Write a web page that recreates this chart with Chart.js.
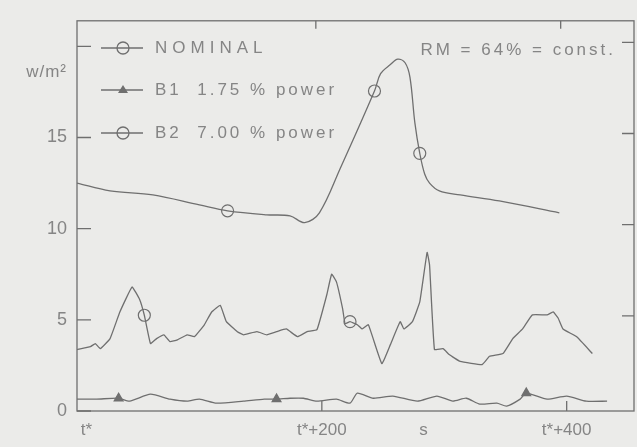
<!DOCTYPE html>
<html>
<head>
<meta charset="utf-8">
<script src="https://cdn.jsdelivr.net/npm/chart.js@4.4.1/dist/chart.umd.min.js"></script>
<style>
  html, body { margin: 0; padding: 0; background: #ebebe9; }
  canvas { display: block; }
</style>
</head>
<body>
<canvas id="flux" width="637" height="447"></canvas>
<script>
// heat flux traces, time in s after t*

const nominalTime = [0, 27, 62, 100, 123, 155, 174, 186, 198, 215, 243, 248, 256, 262, 268, 272, 276, 280, 284, 288, 296, 313, 345, 394];
const nominalValue = [12.5, 12.07, 11.85, 11.3, 10.98, 10.76, 10.7, 10.33, 10.87, 13.3, 17.55, 18.5, 19.0, 19.3, 19.1, 18.3, 15.8, 14.13, 13.0, 12.5, 12.07, 11.85, 11.52, 10.87];
const nominalMarks = [123, 243, 280];

const b1Time = [0, 16, 34, 43, 60, 76, 90, 100, 114, 136, 153, 163, 174, 185, 196, 212, 223, 229, 242, 258, 278, 294, 307, 318, 329, 343, 351, 362, 367, 384, 400, 416, 433];
const b1Value = [0.65, 0.65, 0.7, 0.54, 0.92, 0.65, 0.54, 0.65, 0.43, 0.54, 0.65, 0.65, 0.7, 0.7, 0.54, 0.65, 0.43, 0.98, 0.7, 0.82, 0.54, 0.82, 0.54, 0.7, 0.38, 0.43, 0.27, 0.65, 0.98, 0.65, 0.82, 0.54, 0.54];
const b1Marks = [34, 163, 367];

const b2Time = [0, 11, 15, 19, 27, 35, 45, 51, 55, 60, 65, 71, 76, 82, 90, 96, 104, 110, 117, 122, 131, 136, 147, 155, 163, 171, 180, 188, 196, 204, 208, 212, 217, 219, 223, 229, 233, 238, 249, 256, 264, 267, 274, 280, 286, 288, 292, 299, 304, 313, 331, 337, 348, 356, 364, 372, 384, 389, 393, 397, 408, 421];
const b2Value = [3.37, 3.53, 3.7, 3.42, 3.97, 5.43, 6.8, 6.14, 5.25, 3.7, 3.97, 4.18, 3.8, 3.9, 4.18, 4.08, 4.73, 5.43, 5.8, 4.9, 4.35, 4.18, 4.35, 4.18, 4.35, 4.5, 4.08, 4.35, 4.46, 6.36, 7.5, 7.07, 5.6, 4.78, 4.9, 4.73, 4.5, 4.73, 2.6, 3.64, 4.9, 4.5, 4.9, 5.98, 8.7, 8.0, 3.37, 3.42, 3.1, 2.72, 2.55, 3.0, 3.15, 3.97, 4.5, 5.27, 5.27, 5.43, 5.1, 4.5, 4.08, 3.15];
const b2Marks = [55, 223, 392];

const yTicks = [0, 5, 10, 15, 20];
const xTicks = [0, 200, 400];
const xTickLabels = ["    t*", "t*+200", "t*+400"];
const unitTime = 283; // where the "s" sits

const ink = "#6f6f6f";
const textInk = "#858585";

function pts(t, v) {
  return t.map((x, i) => ({ x: x, y: v[i] }));
}

function markRadius(marks, r) {
  return ctx => (ctx.raw && marks.includes(ctx.raw.x)) ? r : 0;
}

// frame, inward ticks, legend and notes
const decor = {
  id: "decor",
  afterDatasetsDraw(chart) {
    const c = chart.ctx;
    const a = chart.chartArea;
    const xs = chart.scales.x, ys = chart.scales.y;
    c.save();
    c.strokeStyle = ink;
    c.lineWidth = 1.3;
    c.strokeRect(a.left, a.top, a.right - a.left, a.bottom - a.top);
    c.beginPath();
    yTicks.forEach(v => {
      const py = ys.getPixelForValue(v);
      c.moveTo(a.left, py); c.lineTo(a.left + 14, py);
      if (v > 0) { c.moveTo(a.right, py - 4); c.lineTo(a.right - 12, py - 4); }
    });
    xTicks.slice(1).forEach(v => {
      const px = xs.getPixelForValue(v);
      c.moveTo(px, a.bottom); c.lineTo(px, a.bottom - 10);
      c.moveTo(px - 6, a.top); c.lineTo(px - 6, a.top + 8);
    });
    c.stroke();

    // legend
    const rows = [
      { y: 48, text: "NOMINAL", mark: "circle" },
      { y: 90, text: "B1  1.75 % power", mark: "triangle" },
      { y: 133, text: "B2  7.00 % power", mark: "circle" }
    ];
    c.font = "17px 'Liberation Sans', Arial, sans-serif";
    c.textBaseline = "middle";
    rows.forEach(r => {
      const x0 = a.left + 24, mx = a.left + 46;
      c.beginPath();
      c.moveTo(x0, r.y); c.lineTo(x0 + 42, r.y);
      c.stroke();
      c.beginPath();
      if (r.mark === "circle") {
        c.arc(mx, r.y, 6, 0, Math.PI * 2);
        c.stroke();
      } else {
        c.fillStyle = ink;
        c.moveTo(mx - 5, r.y + 3); c.lineTo(mx + 5, r.y + 3); c.lineTo(mx, r.y - 5);
        c.closePath();
        c.fill();
      }
      c.fillStyle = textInk;
      c.textAlign = "left";
      c.letterSpacing = r.text === "NOMINAL" ? "5px" : "3px";
      c.fillText(r.text, a.left + 78, r.y);
    });
    c.textAlign = "right";
    c.letterSpacing = "3px";
    c.fillText("RM = 64% = const.", a.right - 18, 50);

    // unit of y
    c.letterSpacing = "1px";
    c.fillText("w/m²", a.left - 10, 72);
    c.restore();
  }
};

new Chart(document.getElementById("flux"), {
  type: "line",
  data: {
    datasets: [
      {
        label: "NOMINAL",
        data: pts(nominalTime, nominalValue),
        borderColor: ink,
        borderWidth: 1.3,
        tension: 0.35,
        pointStyle: "circle",
        pointRadius: markRadius(nominalMarks, 6),
        pointBorderColor: ink,
        pointBackgroundColor: "rgba(0,0,0,0)",
        pointBorderWidth: 1.2
      },
      {
        label: "B1 1.75 % power",
        data: pts(b1Time, b1Value),
        borderColor: ink,
        borderWidth: 1.3,
        tension: 0.2,
        pointStyle: "triangle",
        pointRadius: markRadius(b1Marks, 5),
        pointBorderColor: ink,
        pointBackgroundColor: ink
      },
      {
        label: "B2 7.00 % power",
        data: pts(b2Time, b2Value),
        borderColor: ink,
        borderWidth: 1.3,
        tension: 0.1,
        pointStyle: "circle",
        pointRadius: markRadius(b2Marks, 6),
        pointBorderColor: ink,
        pointBackgroundColor: "rgba(0,0,0,0)",
        pointBorderWidth: 1.2
      }
    ]
  },
  options: {
    responsive: false,
    animation: false,
    devicePixelRatio: 1,
    layout: { padding: { top: 16, right: 3, left: 0, bottom: 0 } },
    plugins: { legend: { display: false }, tooltip: { enabled: false } },
    scales: {
      x: {
        type: "linear",
        min: 0,
        max: 455,
        grid: { display: false, drawTicks: false },
        border: { display: false },
        afterBuildTicks: s => { s.ticks = xTicks.concat([unitTime]).map(v => ({ value: v })); },
        afterFit: s => { s.height = 36; },
        ticks: {
          padding: 9,
          color: textInk,
          font: { family: "'Liberation Sans', Arial, sans-serif", size: 17 },
          maxRotation: 0,
          autoSkip: false,
          callback: v => v === unitTime ? "s" : xTickLabels[xTicks.indexOf(v)]
        }
      },
      y: {
        min: 0,
        max: 21.4,
        grid: { display: false, drawTicks: false },
        border: { display: false },
        afterBuildTicks: s => { s.ticks = yTicks.map(v => ({ value: v })); },
        afterFit: s => { s.width = 77; },
        ticks: {
          padding: 10,
          color: textInk,
          font: { family: "'Liberation Sans', Arial, sans-serif", size: 18 },
          callback: v => v === 20 ? "" : String(v)
        }
      }
    }
  },
  plugins: [decor]
});
</script>
</body>
</html>
